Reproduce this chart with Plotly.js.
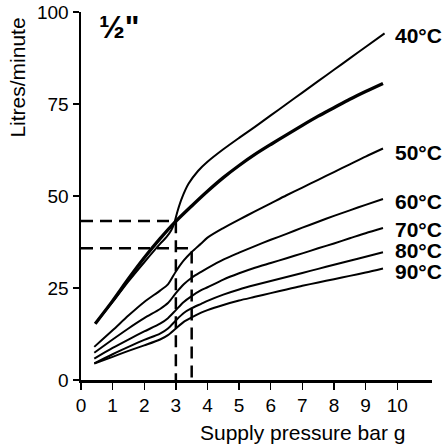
<!DOCTYPE html>
<html>
<head>
<meta charset="utf-8">
<script src="https://cdn.plot.ly/plotly-3.0.1.min.js"></script>
<style>html,body{margin:0;padding:0;background:#fff;}#chart{width:442px;height:444px;}</style>
</head>
<body>
<div id="chart"></div>
<script>
// Supply pressure (bar g) and flow (litres/minute)
var pressure40 = [0.45,1,1.5,2,2.5,2.7,2.85,2.95,3.05,3.2,3.4,3.7,4,4.5,5,5.5,6,6.5,7,7.5,8,8.5,9,9.6];
var flow40     = [15.3,21.2,26.8,32,37,38.8,40.6,42.6,45.8,49.6,53.3,56.8,59.3,62.7,65.8,68.8,71.9,75,78.1,81.2,84.3,87.4,90.5,94.2];

var pressureBold = [0.45,1,1.5,2,2.5,2.95,3.5,4,4.5,5,5.5,6,6.5,7,7.5,8,8.5,9,9.55];
var flowBold     = [15.3,21.5,27.5,33.2,38.4,42.7,47.3,51.3,55,58.3,61.3,64,66.6,69.2,71.7,74,76.3,78.4,80.6];

var pressureLow = [0.42,1,1.5,2,2.5,2.75,3,3.25,3.5,3.8,4,4.5,5,5.5,6,6.5,7,7.5,8,8.5,9,9.55];
var flow50 = [9,13.5,17.5,21.2,24.3,26,29.5,32.5,34.8,37.1,38.7,41.3,43.6,45.8,48,50.2,52.3,54.4,56.5,58.6,60.7,62.9];
var flow60 = [7.4,11,14,16.8,19.3,20.9,23.6,26,27.8,29.4,30.4,32.7,34.6,36.4,38.1,39.7,41.4,43,44.6,46.1,47.6,49.2];
var flow70 = [5.8,8.7,11,13.2,15.3,16.8,19,21.2,22.8,24.4,25.2,27.3,29,30.5,31.8,33.1,34.4,35.8,37.1,38.5,39.9,41.3];
var flow80 = [4.5,7,9,10.9,12.6,14,16.2,18.2,19.5,20.7,21.5,23.2,24.6,25.8,26.9,28,29.1,30.2,31.3,32.4,33.5,34.7];
var flow90 = [4.5,6.3,7.9,9.4,11,12.2,14,15.8,17,18.3,19,20.4,21.6,22.6,23.6,24.6,25.6,26.5,27.4,28.3,29.2,30.3];

var seriesLabels = ["40°C","50°C","60°C","70°C","80°C","90°C"];
var labelFlow    = [93.7,61.9,48.6,40.9,35.2,29.6];
var labelPressure = 9.87;

// Dashed reading guides
var guidePressure = [3, 3.5];
var guideFlow     = [43.2, 35.8];

var xTicks = [0,1,2,3,4,5,6,7,8,9,10];
var yTicks = [0,25,50,75,100];

var FONT = "Liberation Sans, Arial, Helvetica, sans-serif";

function curve(x, y, w, name) {
  return {x: x, y: y, type: "scatter", mode: "lines", name: name,
          line: {color: "#000", width: w, shape: "spline", smoothing: 0.8},
          hoverinfo: "skip", showlegend: false};
}

var traces = [
  curve(pressure40, flow40, 2, "40°C"),
  curve(pressureBold, flowBold, 3.3, ""),
  curve(pressureLow, flow50, 2, "50°C"),
  curve(pressureLow, flow60, 2, "60°C"),
  curve(pressureLow, flow70, 2, "70°C"),
  curve(pressureLow, flow80, 2, "80°C"),
  curve(pressureLow, flow90, 2, "90°C")
];

for (var i = 0; i < guidePressure.length; i++) {
  traces.push({
    x: [0, guidePressure[i], guidePressure[i]],
    y: [guideFlow[i], guideFlow[i], 0],
    type: "scatter", mode: "lines", showlegend: false, hoverinfo: "skip",
    line: {color: "#000", width: 2.5, dash: "12px,7px"}
  });
}

var annotations = [];
for (var j = 0; j < seriesLabels.length; j++) {
  annotations.push({
    x: labelPressure, y: labelFlow[j], xref: "x", yref: "y",
    text: "<b>" + seriesLabels[j] + "</b>", showarrow: false,
    xanchor: "left", yanchor: "middle",
    font: {family: FONT, size: 21, color: "#000"}
  });
}
annotations.push({
  x: 0.5, y: 95.8, xref: "x", yref: "y", text: "<b>½\"</b>", showarrow: false,
  xanchor: "left", yanchor: "middle", font: {family: FONT, size: 31, color: "#000"}
});
annotations.push({
  x: -0.181, y: 0.823, xref: "paper", yref: "paper", text: "Litres/minute",
  textangle: -90, showarrow: false, xanchor: "center", yanchor: "middle",
  font: {family: FONT, size: 21, color: "#000"}
});
annotations.push({
  x: 0.632, y: -0.143, xref: "paper", yref: "paper", text: "Supply pressure bar g",
  showarrow: false, xanchor: "center", yanchor: "middle",
  font: {family: FONT, size: 21, color: "#000"}
});

var layout = {
  width: 442, height: 444,
  margin: {l: 81, r: 10, t: 12, b: 64},
  paper_bgcolor: "#fff", plot_bgcolor: "#fff",
  showlegend: false,
  font: {family: FONT, color: "#000"},
  xaxis: {
    range: [0, 11.1], tickvals: xTicks, ticktext: xTicks.map(String),
    ticks: "outside", ticklen: 7, tickwidth: 1.3, tickcolor: "#000",
    showline: true, linewidth: 2.5, linecolor: "#000",
    showgrid: false, zeroline: false, fixedrange: true,
    tickfont: {family: FONT, size: 19, color: "#000"}
  },
  yaxis: {
    range: [0, 100], tickvals: yTicks, ticktext: yTicks.map(String),
    ticks: "outside", ticklen: 6, tickwidth: 1.3, tickcolor: "#000",
    showline: true, linewidth: 2.5, linecolor: "#000",
    showgrid: false, zeroline: false, fixedrange: true,
    tickfont: {family: FONT, size: 19, color: "#000"}
  },
  annotations: annotations
};

Plotly.newPlot("chart", traces, layout, {staticPlot: true, displayModeBar: false});
</script>
</body>
</html>
